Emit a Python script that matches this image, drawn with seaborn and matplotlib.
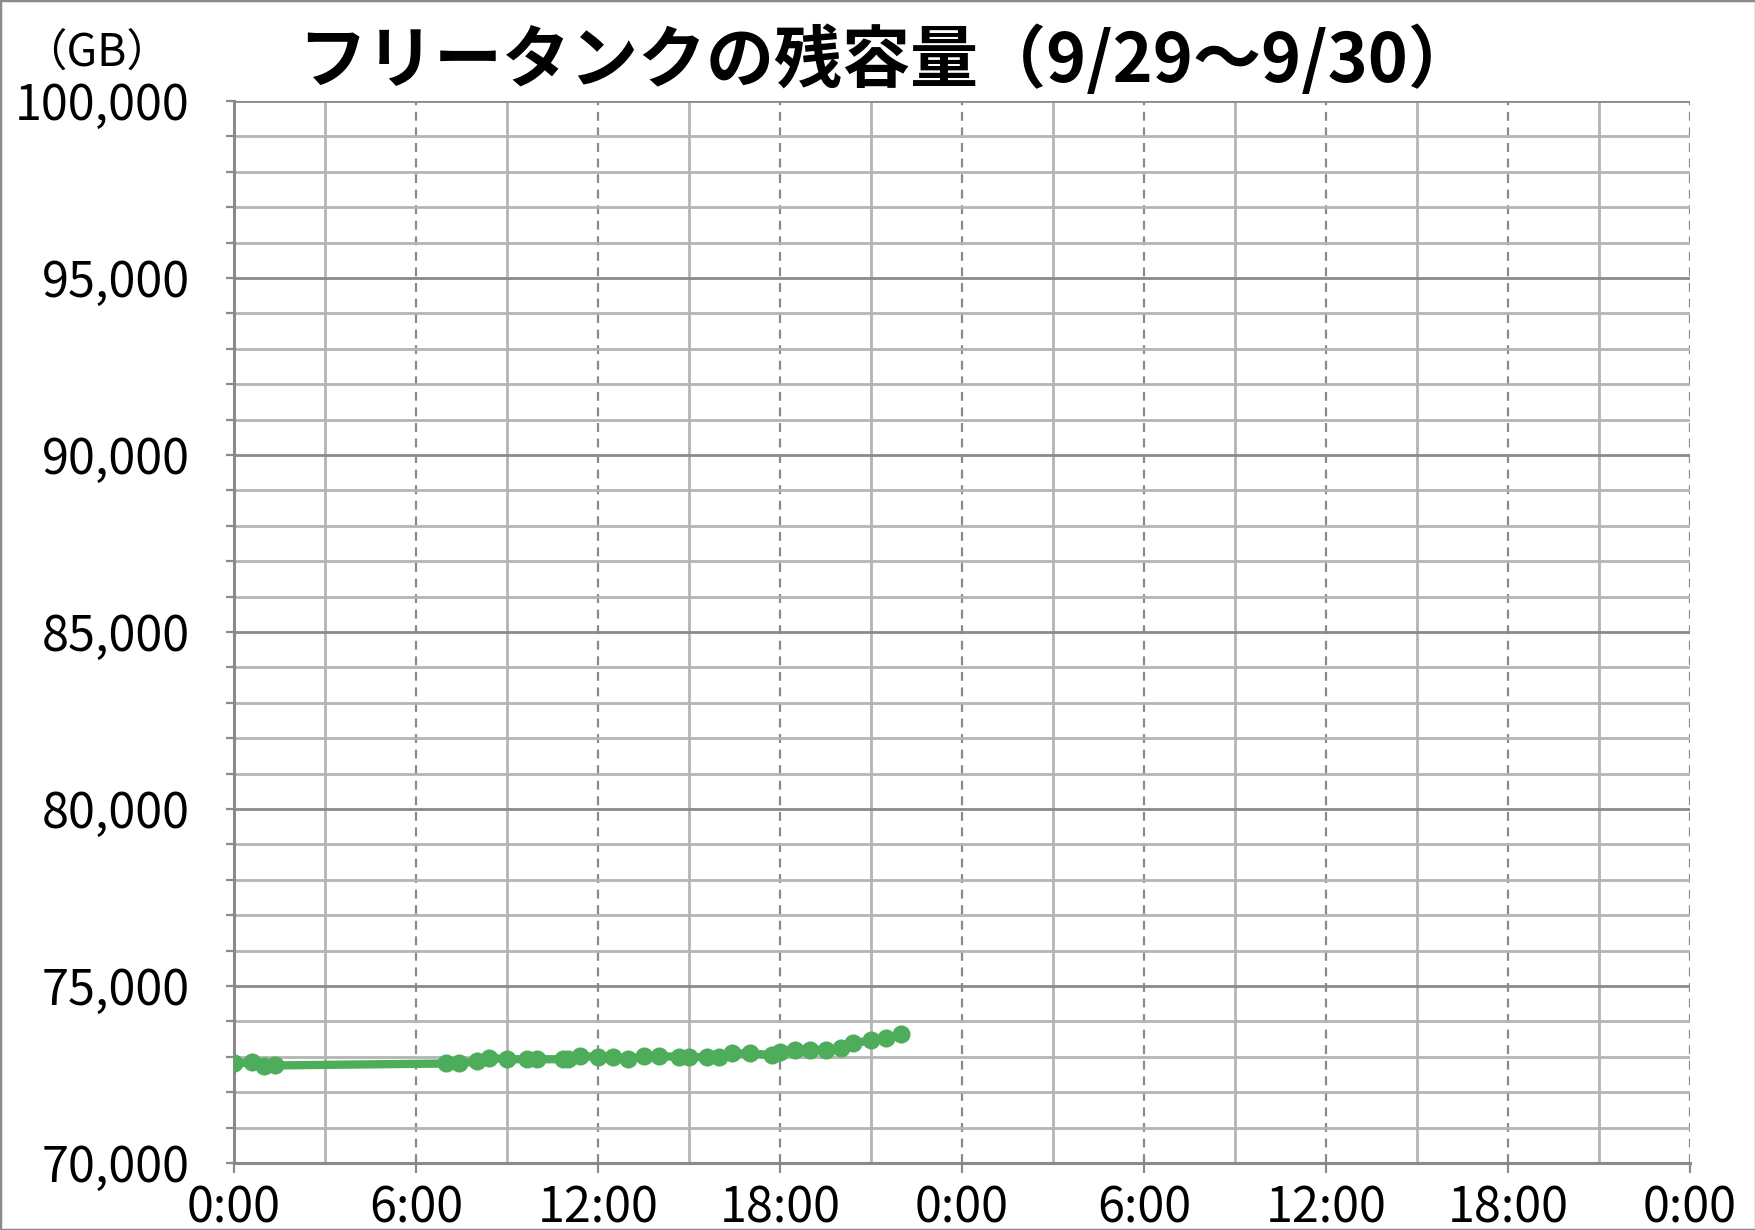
import numpy as np
import pandas as pd
import matplotlib
matplotlib.use("Agg")
import matplotlib.pyplot as plt
import seaborn as sns
from matplotlib.ticker import MultipleLocator, FixedLocator, FuncFormatter
from matplotlib.patches import Rectangle

# orari delle misure (9/29) e capacità residua in GB
orari = ["0:00", "0:35", "1:00", "1:20", "7:00", "7:25", "8:00", "8:25", "9:00",
         "9:40", "10:00", "10:50", "11:00", "11:25", "12:00", "12:30", "13:00",
         "13:30", "14:00", "14:40", "15:00", "15:35", "16:00", "16:25", "17:00",
         "17:45", "18:00", "18:30", "19:00", "19:30", "20:00", "20:25", "21:00",
         "21:30", "22:00"]
capacita = [72810, 72840, 72745, 72755, 72810, 72810, 72875, 72970, 72930,
            72930, 72930, 72930, 72930, 73015, 73000, 73000, 72925,
            73015, 73015, 73000, 72980, 73000, 73000, 73095, 73095,
            73045, 73140, 73205, 73185, 73185, 73235, 73375, 73470,
            73520, 73630]
etichette_x = ["0:00", "6:00", "12:00", "18:00", "0:00", "6:00", "12:00", "18:00", "0:00"]

titolo = "フリータンクの残容量（9/29～9/30）"
unita = "（GB）"


def ore(s):
    h, m = s.split(":")
    return int(h) + int(m) / 60


df = pd.DataFrame({"ore": [ore(s) for s in orari], "GB": capacita})

sns.set_style("white")
plt.rcParams['font.family'] = ['Noto Sans CJK JP', 'DejaVu Sans']

fig = plt.figure(figsize=(17.56, 12.3), dpi=100)
ax = fig.add_axes([0.1333, 0.0545, 0.9624 - 0.1333, 0.9179 - 0.0545])

verde = '#4EAD5B'
sns.lineplot(data=df, x="ore", y="GB", ax=ax, color=verde, linewidth=6,
             marker='o', markersize=13, markeredgewidth=0, sort=False, zorder=5)

ax.set_xlim(0, 48)
ax.set_ylim(70000, 100000)

ax.xaxis.set_major_locator(FixedLocator(np.arange(0, 49, 6)))
ax.xaxis.set_minor_locator(FixedLocator(np.arange(3, 48, 6)))
ax.set_xticklabels(etichette_x)
ax.yaxis.set_major_locator(MultipleLocator(5000))
ax.yaxis.set_minor_locator(MultipleLocator(1000))
ax.yaxis.set_major_formatter(FuncFormatter(lambda v, p: f"{int(v):,}"))

ax.grid(which='major', axis='x', linestyle=(0, (4, 3)), color='#8a8a8a', linewidth=1.6)
ax.grid(which='minor', axis='x', linestyle='-', color='#b4b4b4', linewidth=2)
ax.grid(which='major', axis='y', linestyle='-', color='#8a8a8a', linewidth=2)
ax.grid(which='minor', axis='y', linestyle='-', color='#b4b4b4', linewidth=2)
ax.set_axisbelow(True)

for lato in ['top', 'right']:
    ax.spines[lato].set_visible(False)
for lato in ['left', 'bottom']:
    ax.spines[lato].set_color('#8a8a8a')
    ax.spines[lato].set_linewidth(2.2)

ax.tick_params(axis='y', which='both', direction='out', length=6, width=1.6,
               color='#8a8a8a', labelsize=35, labelcolor='black', pad=26, left=True)
ax.tick_params(axis='x', which='major', direction='out', length=7, width=1.6,
               color='#8a8a8a', labelsize=35, labelcolor='black', pad=8, bottom=True)
ax.tick_params(axis='x', which='minor', length=0)

ax.set_xlabel("")
ax.set_ylabel("")

fig.text(0.505, 0.950, titolo, ha='center', va='center', fontsize=49,
         fontweight='bold', color='black')
fig.text(0.055, 0.957, unita, ha='center', va='center', fontsize=32, color='black')

fig.patches.append(Rectangle((0, 0), 1, 1, transform=fig.transFigure,
                             fill=False, edgecolor='#8a8a8a', linewidth=2.5))

fig.savefig("out.png", dpi=100)
